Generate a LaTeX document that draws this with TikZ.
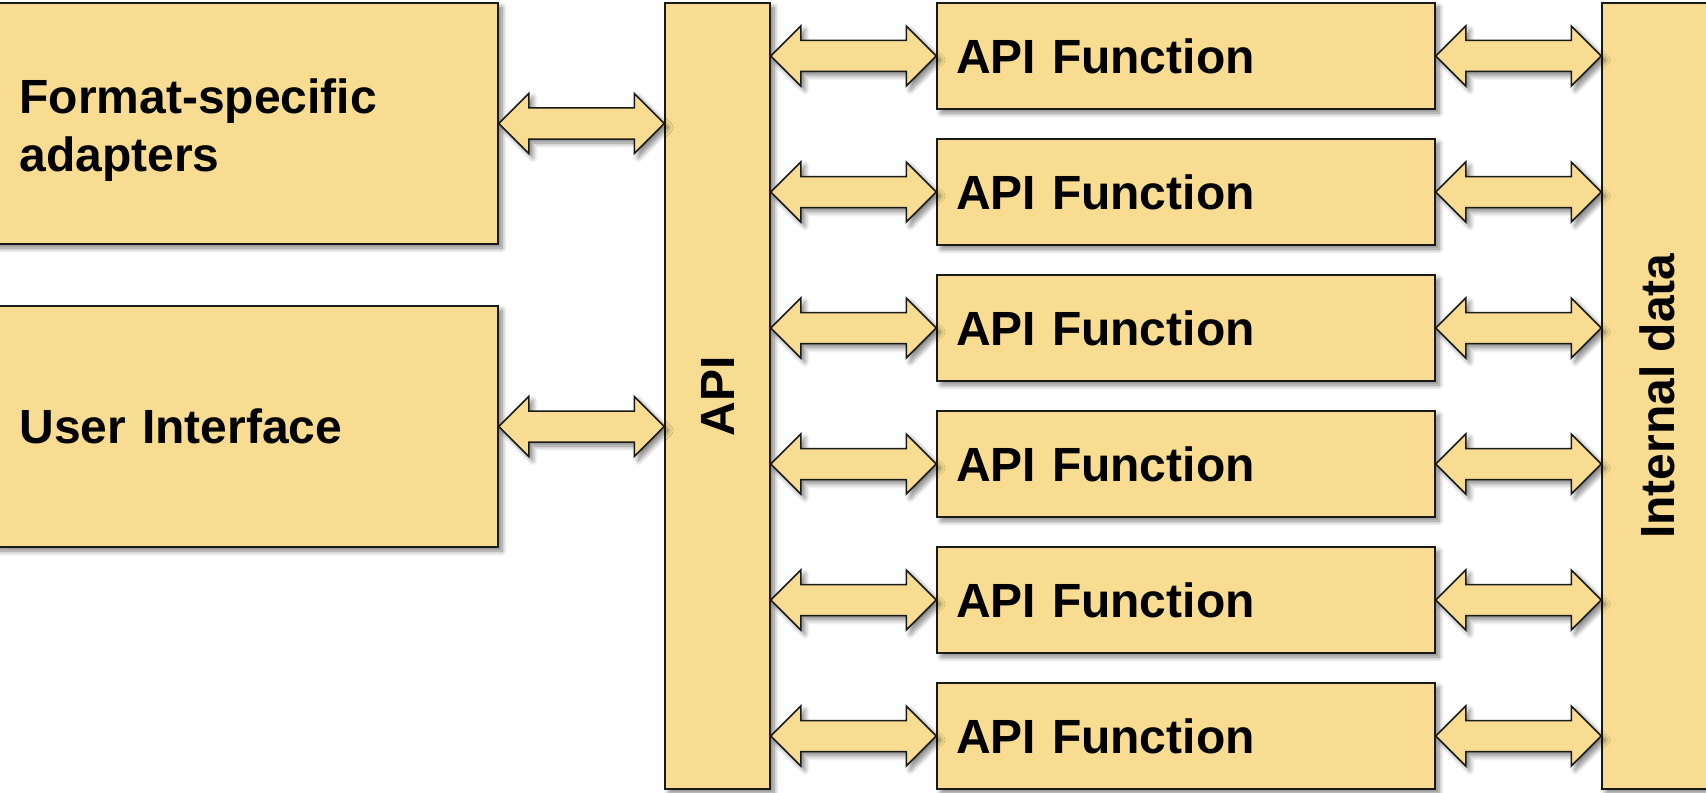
\documentclass[tikz,border=0pt]{standalone}
\usepackage{fontspec}
\setmainfont{Liberation Sans}
\usetikzlibrary{calc,shadows.blur}

\definecolor{boxfill}{RGB}{248,220,145}
\definecolor{edgecol}{RGB}{25,25,25}

\tikzset{
  softshadow/.style={blur shadow={shadow xshift=2pt,shadow yshift=-2pt,
      shadow blur radius=2.5pt,shadow blur steps=8,shadow opacity=50}},
  block/.style={draw=edgecol, line width=0.75pt, fill=boxfill, softshadow,
      inner sep=0pt, font=\bfseries\fontsize{24}{29}\selectfont},
  sidebox/.style={block, minimum width=251.5pt, minimum height=120.5pt,
      text width=227pt, align=left},
  funcbox/.style={block, minimum width=249pt, minimum height=53pt,
      text width=230pt, align=left},
  tallbox/.style={block, minimum height=393pt},
  % double-headed block arrow between two points at the same height
  dblarrow/.style={draw=edgecol, line width=0.75pt, fill=boxfill, softshadow,
      line join=miter,
      to path={let \p1=(\tikztostart), \p2=(\tikztotarget) in
        -- (\x1+15pt,\y1+15pt) -- (\x1+15pt,\y1+7.75pt)
        -- (\x2-15pt,\y2+7.75pt) -- (\x2-15pt,\y2+15pt)
        -- (\x2,\y2)
        -- (\x2-15pt,\y2-15pt) -- (\x2-15pt,\y2-7.75pt)
        -- (\x1+15pt,\y1-7.75pt) -- (\x1+15pt,\y1-15pt)
        -- cycle}}
}

\begin{document}
\begin{tikzpicture}[x=0.5pt,y=-0.5pt]
  \useasboundingbox (0,0) rectangle (1706,792);
  \clip (0,0) rectangle (1706,792);

  % client side
  \node[sidebox, text height=24pt] (fmt) at (246.5,123.5) {Format-specific\\adapters};
  \node[sidebox] (ui)  at (246.5,426.5) {User Interface};

  % API layer and internal data store
  \node[tallbox, minimum width=52.5pt] (api)  at (717.5,396) {\rotatebox{90}{API}};
  \node[tallbox, minimum width=55pt]   (data) at (1657,396)  {\rotatebox{90}{Internal data}};

  % API functions
  \foreach \i in {0,...,5}{
    \node[funcbox] (f\i) at (1186,56+136*\i) {API Function};
  }

  % connectors
  \draw[dblarrow] (fmt.east) to (api.west |- fmt.east);
  \draw[dblarrow] (ui.east)  to (api.west |- ui.east);
  \foreach \i in {0,...,5}{
    \draw[dblarrow] (api.east |- f\i.west) to (f\i.west);
    \draw[dblarrow] (f\i.east) to (data.west |- f\i.east);
  }
\end{tikzpicture}
\end{document}
